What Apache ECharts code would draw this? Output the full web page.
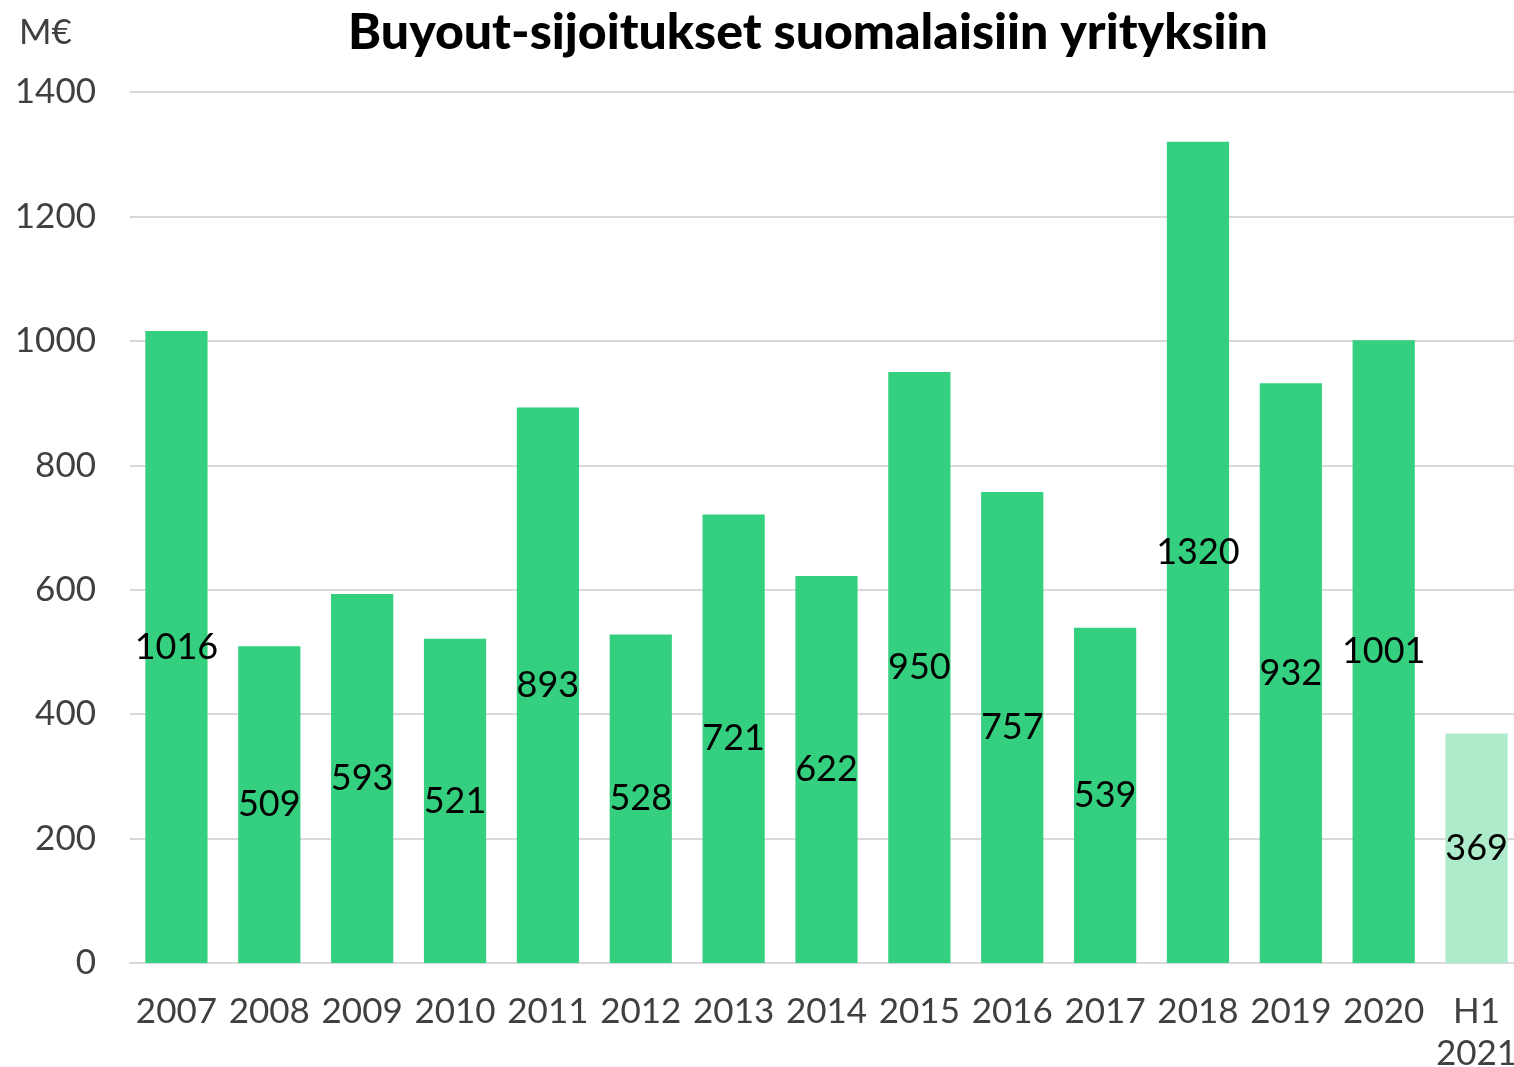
<!DOCTYPE html>
<html>
<head>
<meta charset="utf-8">
<script src="https://cdn.jsdelivr.net/npm/echarts@6/dist/echarts.min.js"></script>
<style>
    html, body { margin: 0; padding: 0; background: #fff; }
    #chart { width: 1514px; height: 1067px; }
</style>
</head>
<body>
<div id="chart"></div>
<script>
    // vuodet ja arvot (M€)
    var years = ['2007', '2008', '2009', '2010', '2011', '2012', '2013', '2014', '2015', '2016', '2017', '2018', '2019', '2020', 'H1\n2021'];
    var values = [1016, 509, 593, 521, 893, 528, 721, 622, 950, 757, 539, 1320, 932, 1001, 369];
    var yTicks = [0, 200, 400, 600, 800, 1000, 1200, 1400];

    var green = '#35d07f',
        lightGreen = '#aeebca';
    var fontName = 'Lato';

    var myChart = echarts.init(document.getElementById('chart'));

    // viimeinen palkki (puolivuosi) vaaleampi
    var barData = [];
    for (var i = 0; i < values.length; i++) {
        barData.push({
            value: values[i],
            itemStyle: { color: i == values.length - 1 ? lightGreen : green }
        });
    }

    var option = {
        animation: false,
        title: [{
            text: 'Buyout-sijoitukset suomalaisiin yrityksiin',
            left: 803,
            top: 3,
            textAlign: 'center',
            textStyle: { fontFamily: fontName, fontSize: 50, fontWeight: 900, color: '#000' }
        }, {
            text: 'M€',
            left: 14,
            top: 10,
            textStyle: { fontFamily: fontName, fontSize: 35, fontWeight: 'normal', color: '#404040' }
        }],
        // kuvaaja jatkuu hieman oikean reunan yli
        grid: { left: 130, right: -9, top: 92, bottom: 104, containLabel: false, outerBoundsMode: 'none' },
        xAxis: {
            type: 'category',
            data: years,
            axisLine: { show: true, lineStyle: { color: '#d9d9d9', width: 2 } },
            axisTick: { show: false },
            axisLabel: {
                interval: 0,
                margin: 28,
                fontFamily: fontName,
                fontSize: 35,
                lineHeight: 42,
                color: '#404040'
            }
        },
        yAxis: {
            type: 'value',
            min: yTicks[0],
            max: yTicks[yTicks.length - 1],
            interval: 200,
            axisLine: { show: false },
            axisTick: { show: false },
            splitLine: { lineStyle: { color: '#d9d9d9', width: 2 } },
            axisLabel: {
                margin: 34,
                fontFamily: fontName,
                fontSize: 35,
                color: '#404040',
                formatter: function (v) { return String(v); }
            }
        },
        series: [{
            type: 'bar',
            data: barData,
            barWidth: '67%',
            label: {
                show: true,
                position: 'inside',
                fontFamily: fontName,
                fontSize: 36,
                color: '#000'
            }
        }]
    };

    myChart.setOption(option);
</script>
</body>
</html>
